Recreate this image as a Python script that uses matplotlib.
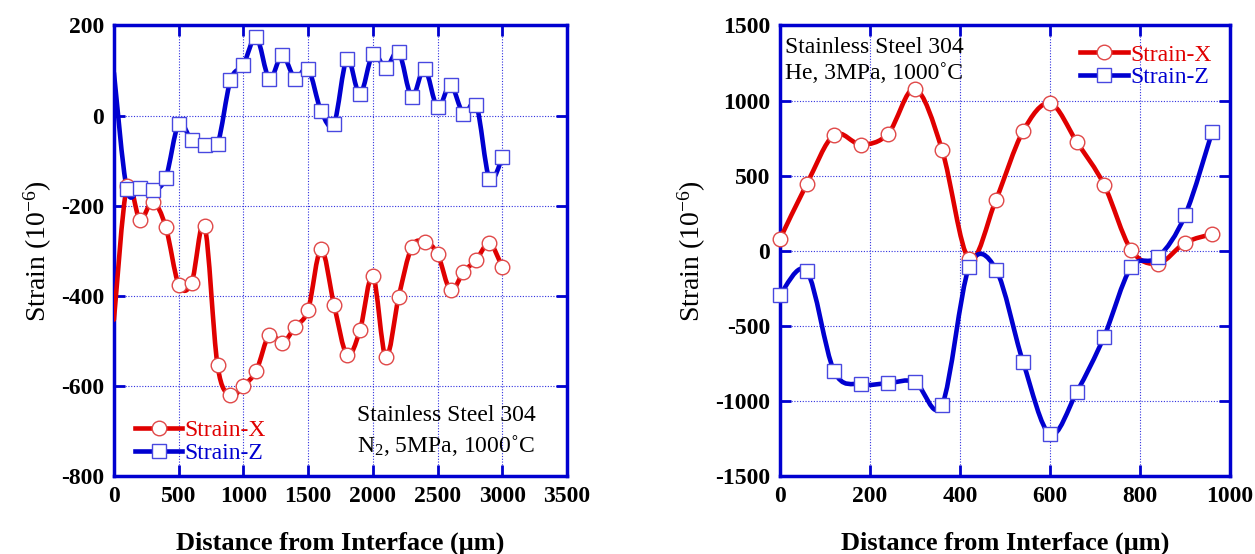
import numpy as np
import matplotlib
matplotlib.use("Agg")
import matplotlib.pyplot as plt
from matplotlib.path import Path
from matplotlib.patches import PathPatch
from matplotlib.lines import Line2D

plt.rcParams['font.family'] = ['Liberation Serif', 'DejaVu Serif']
plt.rcParams['mathtext.fontset'] = 'custom'
plt.rcParams['mathtext.rm'] = 'Liberation Serif'
plt.rcParams['mathtext.it'] = 'Liberation Serif:italic'
plt.rcParams['mathtext.bf'] = 'Liberation Serif:bold'
plt.rcParams['axes.unicode_minus'] = False

# ---- Left panel data (N2, 5MPa, 1000C) ----
left_x = [0, 100, 200, 300, 400, 500, 600, 700, 800, 900, 1000, 1100, 1200, 1300,
          1400, 1500, 1600, 1700, 1800, 1900, 2000, 2100, 2200, 2300, 2400, 2500,
          2600, 2700, 2800, 2900, 3000]
left_strain_x = [-453, -157, -231, -191, -247, -375, -371, -244, -554, -621, -600,
                 -566, -486, -505, -469, -431, -296, -420, -531, -477, -355, -536,
                 -402, -292, -280, -307, -388, -347, -320, -283, -336]
left_strain_z = [95, -164, -161, -166, -138, -18, -55, -66, -63, 78, 113, 174, 82,
                 134, 82, 104, 10, -18, 126, 47, 137, 106, 141, 42, 104, 18, 68, 4,
                 23, -140, -93]

# ---- Right panel data (He, 3MPa, 1000C) ----
right_x = [0, 60, 120, 180, 240, 300, 360, 420, 480, 540, 600, 660, 720, 780, 840,
           900, 960]
right_strain_x = [78, 447, 771, 707, 778, 1078, 673, -55, 340, 795, 982, 722, 440,
                  7, -85, 53, 111]
right_strain_z = [-293, -138, -800, -889, -882, -873, -1027, -111, -125, -740,
                  -1222, -938, -573, -111, -44, 235, 789]

left_xticks = [0, 500, 1000, 1500, 2000, 2500, 3000, 3500]
left_yticks = [-800, -600, -400, -200, 0, 200]
right_xticks = [0, 200, 400, 600, 800, 1000]
right_yticks = [-1500, -1000, -500, 0, 500, 1000, 1500]

RED = '#E00000'
BLUE = '#0000D0'
FRAME = '#0000D0'
GRID = '#3030E0'


def smooth_path(x, y):
    """Catmull-Rom curve through the points, expressed as cubic Bezier segments."""
    x = np.asarray(x, float)
    y = np.asarray(y, float)
    P = np.column_stack([x, y])
    n = len(P)
    verts = [P[0]]
    codes = [Path.MOVETO]
    for i in range(n - 1):
        p0 = P[i - 1] if i > 0 else P[i]
        p1 = P[i]
        p2 = P[i + 1]
        p3 = P[i + 2] if i + 2 < n else P[i + 1]
        c1 = p1 + (p2 - p0) / 6.0
        c2 = p2 - (p3 - p1) / 6.0
        verts += [c1, c2, p2]
        codes += [Path.CURVE4] * 3
    return Path(verts, codes)


def draw_series(ax, x, y, color, marker, medge, markevery=None):
    patch = PathPatch(smooth_path(x, y), facecolor='none', edgecolor=color,
                      lw=3.3, transform=ax.transData, zorder=3, capstyle='round',
                      joinstyle='round')
    ax.add_patch(patch)
    ax.plot(x, y, linestyle='none', marker=marker, markersize=10.5,
            markerfacecolor='white', markeredgecolor=medge, markeredgewidth=1.0,
            zorder=4, clip_on=False, markevery=markevery)


def style_axes(ax, xticks, yticks, xlim, ylim):
    ax.set_xlim(*xlim)
    ax.set_ylim(*ylim)
    ax.set_xticks(xticks)
    ax.set_yticks(yticks)
    ax.set_xticklabels([str(v) for v in xticks], fontsize=17, fontweight='bold')
    ax.set_yticklabels([str(v) for v in yticks], fontsize=17, fontweight='bold')
    ax.tick_params(direction='in', length=8, width=2, color=FRAME,
                   top=True, right=True, pad=7)
    ax.grid(True, color=GRID, linestyle=(0, (1, 1.5)), linewidth=0.8)
    ax.set_axisbelow(True)
    for s in ax.spines.values():
        s.set_color(FRAME)
        s.set_linewidth(2.5)
    ax.set_xlabel('Distance from Interface (\u03bcm)', fontsize=19,
                  fontweight='bold', labelpad=18)
    ax.set_ylabel('Strain (10$^{-6}$)', fontsize=20, labelpad=5)


fig = plt.figure(figsize=(12.55, 5.54), dpi=100)
axL = fig.add_axes([0.0908, 0.1408, 0.361, 0.8132])
axR = fig.add_axes([0.6215, 0.1408, 0.3586, 0.8132])

draw_series(axL, left_x, left_strain_x, RED, 'o', '#E04848', markevery=slice(1, None))
draw_series(axL, left_x, left_strain_z, BLUE, 's', '#4848E0', markevery=slice(1, None))
style_axes(axL, left_xticks, left_yticks, (0, 3500), (-800, 200))

draw_series(axR, right_x, right_strain_x, RED, 'o', '#E04848')
draw_series(axR, right_x, right_strain_z, BLUE, 's', '#4848E0')
style_axes(axR, right_xticks, right_yticks, (0, 1000), (-1500, 1500))

handles = [
    Line2D([], [], color=RED, lw=3.3, marker='o', markersize=10.5,
           markerfacecolor='white', markeredgecolor='#E04848', markeredgewidth=1.0),
    Line2D([], [], color=BLUE, lw=3.3, marker='s', markersize=10.5,
           markerfacecolor='white', markeredgecolor='#4848E0', markeredgewidth=1.0),
]
labels = ['Strain-X', 'Strain-Z']

legL = axL.legend(handles, labels, loc='lower left', bbox_to_anchor=(0.015, -0.005),
                  frameon=False, fontsize=17, handlelength=2.0, handletextpad=0.1,
                  labelspacing=0.05, borderaxespad=0.2)
legR = axR.legend(handles, labels, loc='upper right', bbox_to_anchor=(0.99, 0.99),
                  frameon=False, fontsize=17, handlelength=2.0, handletextpad=0.1,
                  labelspacing=0.05, borderaxespad=0.2)
for leg in (legL, legR):
    for t, c in zip(leg.get_texts(), [RED, BLUE]):
        t.set_color(c)

axL.text(0.537, 0.04, 'Stainless Steel 304\nN$_2$, 5MPa, 1000\u02daC',
         transform=axL.transAxes, fontsize=17, ha='left', va='bottom',
         linespacing=1.35)
axR.text(0.012, 0.975, 'Stainless Steel 304\nHe, 3MPa, 1000\u02daC',
         transform=axR.transAxes, fontsize=17, ha='left', va='top',
         linespacing=1.35)

fig.savefig('out.png', dpi=100)
